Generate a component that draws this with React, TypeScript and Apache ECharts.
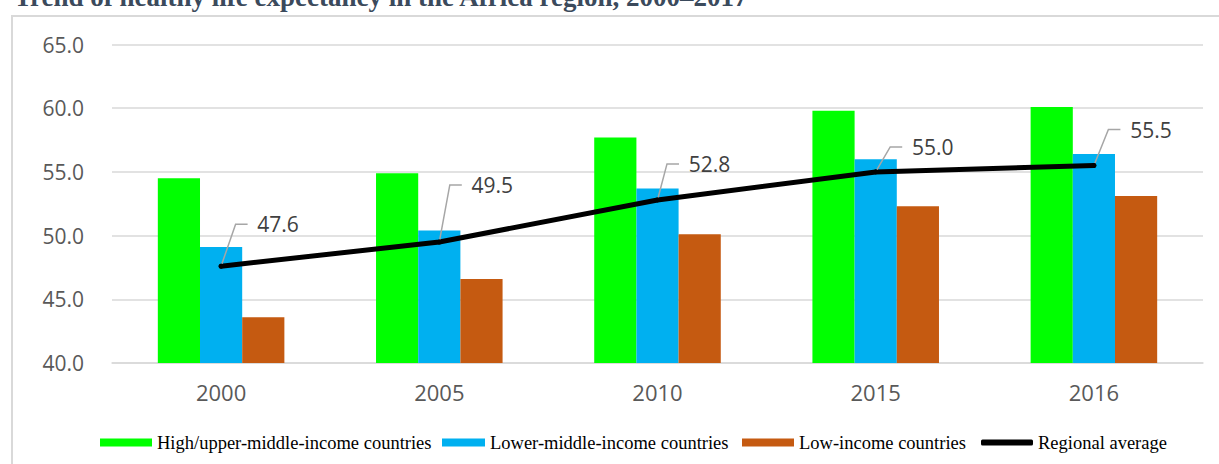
import React, { useEffect, useRef } from "react";
import * as echarts from "echarts";

const titleText = "Trend of healthy life expectancy in the Africa region, 2000\u20132017";
const categories = ["2000", "2005", "2010", "2015", "2016"];
const highUpperMiddle = [54.5, 54.9, 57.7, 59.8, 60.1];
const lowerMiddle = [49.1, 50.4, 53.7, 56.0, 56.4];
const lowIncome = [43.6, 46.6, 50.1, 52.3, 53.1];
const regionalAverage = [47.6, 49.5, 52.8, 55.0, 55.5];
const seriesNames = [
  "High/upper-middle-income countries",
  "Lower-middle-income countries",
  "Low-income countries",
  "Regional average",
];
const labelOffsets = [
  [57, -42],
  [53, -57],
  [52, -36],
  [57, -25],
  [57, -36],
];

export default function App() {
  const ref = useRef<HTMLDivElement>(null);
  useEffect(() => {
    if (!ref.current) return;
    const chart = echarts.init(ref.current, undefined, { renderer: "svg" });
    const axisFont = "'Open Sans', 'Noto Sans', sans-serif";
    const serif = "'Liberation Serif', 'Times New Roman', serif";
    const legendBase = {
      orient: "horizontal",
      top: 433,
      padding: 0,
      itemWidth: 52,
      itemHeight: 8,
      textStyle: { fontFamily: serif, fontSize: 18.5, color: "#000" },
    };
    chart.setOption({
      animation: false,
      backgroundColor: "#ffffff",
      graphic: [
        {
          type: "rect",
          shape: { x: 12, y: 16, width: 1400, height: 600 },
          style: { fill: "none", stroke: "#d9d9d9", lineWidth: 2 },
          silent: true,
        },
        {
          type: "text",
          x: 14,
          y: -3.5,
          style: {
            text: titleText,
            font: "bold 27px 'Liberation Serif', serif",
            fill: "#3b4a5c",
            verticalAlign: "middle",
          },
        },
      ],
      legend: [
        { ...legendBase, left: 100, itemGap: 0, itemTextGap: 6, data: [{ name: seriesNames[0], icon: "rect" }] },
        { ...legendBase, left: 442, itemWidth: 43, itemGap: 0, itemTextGap: 0, data: [{ name: seriesNames[1], icon: "rect" }] },
        { ...legendBase, left: 742, itemGap: 0, itemTextGap: 6, data: [{ name: seriesNames[2], icon: "rect" }] },
        { ...legendBase, left: 981, itemHeight: 6, itemGap: 0, itemTextGap: 5, data: [{ name: seriesNames[3], icon: "roundRect" }] },
      ],
      grid: { left: 112, right: 16, top: 44.5, bottom: 101, containLabel: false },
      xAxis: {
        type: "category",
        data: categories,
        axisLine: { show: true, lineStyle: { color: "#d9d9d9", width: 1.5 } },
        axisTick: { show: false },
        axisLabel: { fontFamily: axisFont, fontSize: 22, color: "#595959", margin: 18 },
      },
      yAxis: {
        type: "value",
        min: 40,
        max: 65,
        interval: 5,
        axisLine: { show: false },
        axisTick: { show: false },
        splitLine: { lineStyle: { color: "#d9d9d9", width: 1.5 } },
        axisLabel: {
          fontFamily: axisFont,
          fontSize: 21,
          color: "#595959",
          margin: 28,
          formatter: (v: number) => v.toFixed(1),
        },
      },
      series: [
        {
          name: seriesNames[0],
          type: "bar",
          data: highUpperMiddle,
          barGap: "0%",
          barCategoryGap: "42%",
          itemStyle: { color: "#00ff00" },
        },
        {
          name: seriesNames[1],
          type: "bar",
          data: lowerMiddle,
          itemStyle: { color: "#00b0f0" },
        },
        {
          name: seriesNames[2],
          type: "bar",
          data: lowIncome,
          itemStyle: { color: "#c55a11" },
        },
        {
          name: seriesNames[3],
          type: "line",
          data: regionalAverage,
          z: 5,
          symbol: "circle",
          symbolSize: 5,
          itemStyle: { color: "#000" },
          lineStyle: { color: "#000", width: 5, cap: "round", join: "round" },
          label: {
            show: true,
            position: "top",
            fontFamily: axisFont,
            fontSize: 21,
            color: "#404040",
            formatter: (p: any) => "{s| }{v|" + Number(p.value).toFixed(1) + "}",
            rich: {
              s: { width: 14, fontSize: 21, fontFamily: axisFont },
              v: { fontSize: 21, fontFamily: axisFont, color: "#404040" },
            },
          },
          labelLine: { show: true, length2: 12, lineStyle: { color: "#a6a6a6", width: 1.5 } },
          labelLayout: (p: any) => {
            const o = labelOffsets[p.dataIndex] || [50, -40];
            return {
              x: p.rect.x + p.rect.width / 2 + o[0] - 7,
              y: p.rect.y + p.rect.height / 2 + o[1],
              align: "center",
              verticalAlign: "middle",
            };
          },
        },
      ],
    });
    return () => chart.dispose();
  }, []);
  return (
    <div
      ref={ref}
      style={{ position: "fixed", left: 0, top: 0, width: 1219, height: 464, background: "#fff" }}
    />
  );
}
